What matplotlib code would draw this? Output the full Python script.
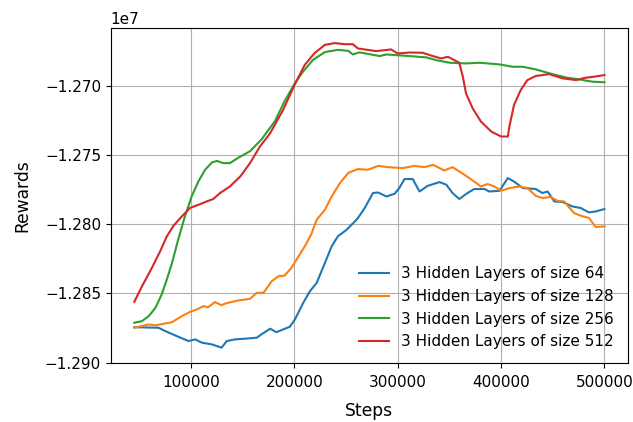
import matplotlib
matplotlib.use('Agg')
import matplotlib.pyplot as plt

# Rewards per training step
steps_64 = [45000, 68500, 75000, 86000, 97500, 104000, 110500, 120000, 129500, 134500,
            142500, 152000, 163500, 168000, 176500, 182500, 195500, 200500, 208500, 215000,
            221500, 229500, 236000, 242000, 250500, 258500, 261500, 268000, 276000, 281000,
            289000, 297000, 301500, 306500, 314500, 321000, 329000, 340500, 347000, 353000,
            359500, 367500, 374000, 384000, 388500, 398500, 406500, 412500, 421000, 433500,
            440000, 445000, 451500, 459500, 469000, 477000, 485000, 491500, 500000]
rewards_64 = [-12874400, -12874800, -12877200, -12880800, -12884400, -12883200, -12885600,
              -12886800, -12889200, -12884400, -12883200, -12882700, -12882000, -12879600,
              -12875500, -12878000, -12874100, -12868800, -12856800, -12848400, -12842400,
              -12828000, -12816000, -12808800, -12804000, -12798000, -12795500, -12788300,
              -12777500, -12777100, -12780000, -12778000, -12773900, -12767400, -12767400,
              -12776400, -12772300, -12769600, -12771500, -12777500, -12781800, -12777500,
              -12774600, -12774600, -12776400, -12775900, -12766700, -12769200, -12773900,
              -12774600, -12777500, -12776400, -12783600, -12784000, -12787200, -12788300,
              -12791500, -12790800, -12789100]

steps_128 = [45000, 59000, 65500, 73500, 81500, 91000, 99000, 105500, 112000, 116500,
             123000, 129500, 133000, 142500, 145500, 157000, 163500, 170000, 178000, 184500,
             190500, 197000, 202000, 210000, 216500, 221500, 229500, 236000, 244000, 252000,
             255000, 261500, 271000, 281000, 290500, 305000, 316000, 326000, 334000, 345000,
             353000, 364500, 374000, 380500, 387000, 393500, 400000, 408000, 417500, 425500,
             433500, 440000, 448000, 454500, 461000, 470500, 477000, 485000, 491500, 500000]
rewards_128 = [-12874800, -12872400, -12873100, -12871900, -12870800, -12866400, -12863300,
               -12861600, -12859200, -12860000, -12856300, -12858500, -12857300, -12855600,
               -12855100, -12853900, -12849600, -12849600, -12841200, -12837600, -12837100,
               -12831600, -12825600, -12816000, -12806900, -12796800, -12789600, -12780000,
               -12770300, -12763100, -12762000, -12760200, -12760700, -12757900, -12758800,
               -12759500, -12757900, -12758800, -12757100, -12761200, -12758800, -12764300,
               -12769200, -12772800, -12771000, -12772800, -12775900, -12773900, -12772800,
               -12773900, -12779500, -12781100, -12780400, -12783100, -12783600, -12791900,
               -12793900, -12795500, -12802000, -12801600]

steps_256 = [45000, 52500, 59000, 65500, 71500, 76500, 81500, 87500, 94000, 100500,
             107000, 113500, 120000, 125000, 131000, 137500, 145500, 157000, 168000, 181000,
             190500, 200500, 208500, 218000, 229500, 242000, 252000, 256500, 263000, 282500,
             289000, 298500, 311500, 327500, 337000, 350000, 366000, 379000, 398500, 411000,
             421000, 433500, 449500, 462500, 475500, 488500, 500000]
rewards_256 = [-12871200, -12870000, -12866400, -12860400, -12850800, -12840000, -12828000,
               -12811200, -12794400, -12780000, -12769200, -12760700, -12755500, -12754300,
               -12755900, -12755900, -12752100, -12747300, -12738900, -12725700, -12711200,
               -12698100, -12689600, -12681300, -12675700, -12674100, -12674800, -12677400,
               -12675900, -12678600, -12677400, -12677900, -12678600, -12679500, -12681500,
               -12683400, -12683900, -12683400, -12684600, -12686300, -12686300, -12688200,
               -12691600, -12694000, -12695400, -12697100, -12697500]

steps_512 = [45000, 52500, 62000, 70000, 76500, 83000, 91000, 99000, 107000, 115000,
             121500, 128000, 137500, 147500, 157000, 166500, 176500, 189000, 200500, 210000,
             219500, 229500, 239000, 248500, 256500, 261500, 279000, 293500, 300000, 311500,
             324000, 334000, 342000, 348500, 359500, 363000, 366000, 372500, 380500, 390500,
             400000, 406500, 408000, 412500, 419000, 425500, 433500, 446500, 459500, 472500,
             482000, 490000, 500000]
rewards_512 = [-12856100, -12844800, -12831600, -12819600, -12808800, -12801100, -12794400,
               -12788300, -12786000, -12783600, -12781800, -12777500, -12772800, -12765600,
               -12755900, -12744000, -12734300, -12717500, -12698800, -12684900, -12676400,
               -12670500, -12669200, -12670000, -12670000, -12673100, -12675000, -12673800,
               -12676700, -12676000, -12676200, -12678600, -12680300, -12679100, -12683400,
               -12693500, -12705500, -12716300, -12725900, -12733100, -12736700, -12736700,
               -12729500, -12713900, -12703100, -12695900, -12693000, -12691600, -12694700,
               -12695900, -12694200, -12693500, -12692300]

labels = ['3 Hidden Layers of size 64', '3 Hidden Layers of size 128',
          '3 Hidden Layers of size 256', '3 Hidden Layers of size 512']

fig, ax = plt.subplots(figsize=(6.33, 4.22), dpi=100)
fig.subplots_adjust(left=0.175, right=0.992, bottom=0.14, top=0.934)

ax.plot(steps_64, rewards_64, label=labels[0])
ax.plot(steps_128, rewards_128, label=labels[1])
ax.plot(steps_256, rewards_256, label=labels[2])
ax.plot(steps_512, rewards_512, label=labels[3])

ax.set_xlabel('Steps', fontsize=12.3, labelpad=9)
ax.set_ylabel('Rewards', fontsize=12.3, labelpad=10)
ax.ticklabel_format(axis='y', style='sci', scilimits=(0, 0), useOffset=False)
ax.yaxis.get_offset_text().set_fontsize(11)
ax.tick_params(labelsize=11)
ax.tick_params(axis='x', pad=5)
ax.set_yticks([-12900000, -12850000, -12800000, -12750000, -12700000])
ax.set_xticks([100000, 200000, 300000, 400000, 500000])
ax.set_ylim(-12900200, -12658200)
ax.grid(True)
ax.legend(loc='lower right', frameon=False, fontsize=11)

plt.savefig('out.png', dpi=100)
